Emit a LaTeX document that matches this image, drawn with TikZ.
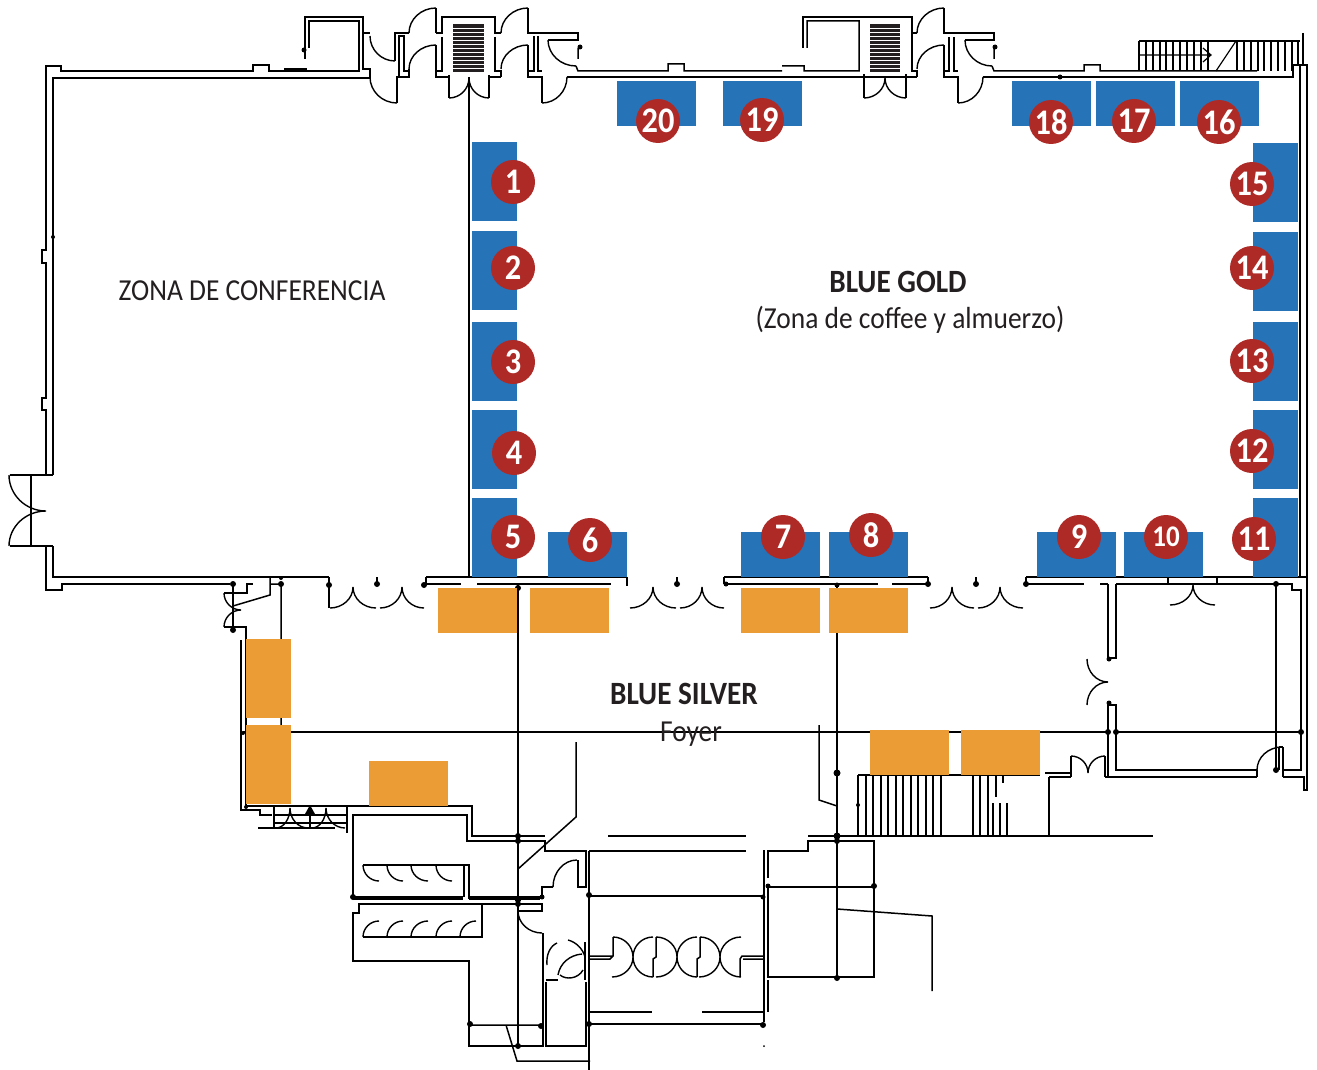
\documentclass[tikz,border=0pt]{standalone}
\usepackage{fontspec}
\usepackage{xcolor}
\usepackage{tikz}
\usetikzlibrary{calc}
\setmainfont[FakeStretch=0.9]{Carlito}
\definecolor{boothblue}{HTML}{2773B8}
\definecolor{badgered}{HTML}{AE2A26}
\definecolor{standorange}{HTML}{EB9C35}
\definecolor{planink}{HTML}{231F20}
\newcommand{\swing}[3]{(#1) .. controls ($(#1)!0.55!(#2)$) and ($(#3)!0.55!(#2)$) .. (#3)}

\begin{document}
\begin{tikzpicture}[
    x=1pt,
    y=-1pt,
    wall/.style={draw=black, line width=1.5pt, line join=miter},
    heavy/.style={draw=black, line width=2.6pt},
    leaf/.style={draw=black, line width=1.4pt},
    tread/.style={draw=black, line width=1.2pt},
    datum/.style={draw=black, line width=1.1pt},
    stripe/.style={draw=white, line width=0.7pt},
    boothh/.style={fill=boothblue, minimum width=79pt, minimum height=45pt, inner sep=0pt},
    boothv/.style={fill=boothblue, minimum width=45pt, minimum height=79pt, inner sep=0pt},
    standh/.style={fill=standorange, minimum width=79pt, minimum height=45pt, inner sep=0pt},
    standv/.style={fill=standorange, minimum width=45pt, minimum height=79pt, inner sep=0pt},
    badge/.style={circle, fill=badgered, text=white, minimum size=44pt, inner sep=0pt, font=\fontsize{36}{36}\selectfont\bfseries},
    roomtitle/.style={text=planink, font=\fontsize{32.5}{32.5}\selectfont\bfseries},
    roomnote/.style={text=planink, font=\fontsize{30.5}{30.5}\selectfont},
]
\useasboundingbox (0,0) rectangle (1317,1070);

% North wall, west part
\draw[wall] (46,475) -- (46,410) -- (42,410) -- (42,398) -- (46,398) -- (46,263) -- (42,263) -- (42,250) -- (46,250) -- (46,66) -- (61,66) -- (61,71) -- (253,71) -- (253,65) -- (269,65) -- (269,71) -- (359,71) -- (359,21) -- (309,21) -- (309,48);
\draw[wall] (53,475) -- (53,78) -- (370,78);
\draw[wall] (305,59) -- (305,17) -- (363,17) -- (363,33) -- (370,33) (363,33) -- (363,69) -- (370,69) -- (370,78);
\draw[heavy] (284,69) -- (307,69);

% First stair core
\draw[wall] (395,61) -- (395,33) -- (409,33) (397,103) -- (397,77) -- (409,77) -- (409,69);
\draw[wall] (399,77) -- (399,36) -- (404,36) -- (404,71) -- (409,71);
\draw[wall] (436,33) -- (442,33) -- (442,17) -- (495,17) -- (495,33) -- (501,33);
\draw[wall] (442,37) -- (442,71) -- (436,71) (495,37) -- (495,71) -- (501,71) -- (501,77);
\draw[wall] (436,45) -- (436,77) -- (449,77) (449,75) -- (449,98) (489,75) -- (489,98) (489,77) -- (501,77);
\draw[wall] (436,8) -- (436,33) (528,8) -- (528,33) -- (578,33) -- (578,40) -- (548,40);
\draw[wall] (528,45) -- (528,77) -- (542,77) -- (542,103) (534,36) -- (534,71) -- (528,71) (538,36) -- (538,71) -- (542,71);
\draw[wall] (578,48) -- (578,59) (576,66) -- (578,71) -- (668,71) -- (668,64) -- (684,64) -- (684,71) -- (782,71) (782,66) -- (804,66) -- (804,71) -- (859,71) -- (859,21) -- (807,21) -- (807,48);
\fill[planink] (453,24) rectangle (484,72);
\draw[stripe] (453,28) -- (484,28) (453,32) -- (484,32) (453,36) -- (484,36) (453,40) -- (484,40) (453,44) -- (484,44) (453,48) -- (484,48) (453,52) -- (484,52) (453,56) -- (484,56) (453,60) -- (484,60) (453,64) -- (484,64) (453,68) -- (484,68);
\draw[leaf] \swing{370,36}{370,61}{395,61} \swing{370,77}{370,103}{397,103};
\draw[leaf] \swing{409,33}{409,8}{436,8} \swing{409,69}{409,45}{436,45};
\draw[leaf] \swing{449,98}{469,98}{469,78} \swing{469,78}{469,98}{489,98};
\draw[leaf] \swing{501,33}{501,8}{528,8} \swing{501,69}{501,45}{528,45};
\draw[leaf] \swing{548,40}{548,66}{576,66} \swing{542,103}{567,103}{567,77};

% Second stair core
\draw[wall] (803,48) -- (803,17) -- (912,17) -- (912,33) -- (917,33) (912,33) -- (912,71) -- (917,71) -- (917,77);
\draw[wall] (944,8) -- (944,33) -- (994,33) -- (994,40) -- (965,40);
\draw[wall] (949,37) -- (949,71) -- (944,71) (954,37) -- (954,71) -- (958,71);
\draw[wall] (944,45) -- (944,77) -- (958,77) -- (958,103);
\draw[wall] (864,74) -- (864,98) (906,74) -- (906,98) (906,77) -- (917,77);
\draw[wall] (994,48) -- (994,59) (992,66) -- (994,71) -- (1084,71) -- (1084,65) -- (1100,65) -- (1100,71) -- (1257,71);
\fill[planink] (870,24) rectangle (900,72);
\draw[stripe] (870,28) -- (900,28) (870,32) -- (900,32) (870,36) -- (900,36) (870,40) -- (900,40) (870,44) -- (900,44) (870,48) -- (900,48) (870,52) -- (900,52) (870,56) -- (900,56) (870,60) -- (900,60) (870,64) -- (900,64) (870,68) -- (900,68);
\draw[leaf] \swing{917,33}{917,8}{944,8} \swing{917,69}{917,45}{944,45};
\draw[leaf] \swing{864,98}{885,98}{885,78} \swing{885,78}{885,98}{906,98};
\draw[leaf] \swing{965,40}{965,66}{992,66} \swing{958,103}{983,103}{983,77};

% Main wall under north side, east wall
\draw[wall] (567,77) -- (906,77) (983,77) -- (1293,77) -- (1293,65) -- (1307,65) -- (1307,790) -- (1304,790) -- (1304,777);
\draw[wall] (1300,65) -- (1300,577) (1303,50) -- (1303,65);
\draw[heavy] (1303,33) -- (1303,50);

% North stair
\draw[tread] (1139,41) -- (1300,41) (1139,41) -- (1139,71) (1146,41) -- (1146,71) (1153,41) -- (1153,71) (1160,41) -- (1160,71) (1166,41) -- (1166,71) (1173,41) -- (1173,71) (1180,41) -- (1180,71) (1187,41) -- (1187,71) (1194,41) -- (1194,71) (1201,41) -- (1201,71) (1208,41) -- (1208,71);
\draw[tread] (1237,41) -- (1237,71) (1244,41) -- (1244,71) (1251,41) -- (1251,71) (1258,41) -- (1258,71) (1264,41) -- (1264,71) (1271,41) -- (1271,71) (1278,41) -- (1278,71) (1285,41) -- (1285,71) (1292,41) -- (1292,71) (1298,41) -- (1298,65);
\draw[tread] (1216,71) -- (1236,41) (1139,55) -- (1211,55) (1203,48) -- (1211,55) -- (1203,62);

% Partition between halls, west entrance
\draw[wall] (469,77) -- (469,577);
\draw[heavy] (10,475) -- (53,475) (10,546) -- (53,546);
\draw[wall] (31,475) -- (31,546) (53,546) -- (53,577) -- (329,577) (46,546) -- (46,590) -- (62,590) -- (62,584) -- (230,584);
\draw[leaf] \swing{9,475}{9,511}{46,511} \swing{46,511}{9,511}{9,546};

% South wall of the halls
\draw[heavy] (329,577) -- (329,608) (426,584) -- (426,577) (627,577) -- (627,586) (724,577) -- (724,584) (928,577) -- (928,584) (1026,577) -- (1026,584) (1168,577) -- (1168,584) (1217,577) -- (1217,584);
\draw[wall] (426,577) -- (627,577) (724,577) -- (928,577) (1026,577) -- (1307,577);
\draw[wall] (426,584) -- (461,584) (477,584) -- (611,584) (724,584) -- (878,584) (892,584) -- (928,584);
\draw[wall] (1026,584) -- (1084,584) (1100,584) -- (1108,584) (1116,584) -- (1292,584) -- (1292,590) -- (1301,590) -- (1301,770) -- (1283,770) (1257,770) -- (1116,770) -- (1116,705) -- (1108,705);
\draw[wall] (1108,584) -- (1108,658) -- (1116,658) -- (1116,584) (1108,705) -- (1108,777);
\draw[wall] (377,577) -- (377,586) (677,577) -- (677,586) (976,577) -- (976,586);
\draw[leaf] \swing{330,608}{353,608}{353,587} \swing{353,587}{353,608}{376,608} \swing{380,608}{402,608}{402,587} \swing{402,587}{402,608}{424,608};
\draw[leaf] \swing{630,608}{653,608}{653,587} \swing{653,587}{653,608}{676,608} \swing{680,608}{702,608}{702,587} \swing{702,587}{702,608}{724,608};
\draw[leaf] \swing{930,608}{952,608}{952,587} \swing{952,587}{952,608}{974,608} \swing{978,608}{1000,608}{1000,587} \swing{1000,587}{1000,608}{1023,608};
\draw[leaf] \swing{1170,605}{1193,605}{1193,585} \swing{1193,585}{1193,605}{1215,605};
\draw[leaf] \swing{1087,659}{1087,682}{1108,682} \swing{1108,682}{1087,682}{1087,705};

% East rooms
\draw[wall] (1276,584) -- (1276,770) (1283,747) -- (1283,777) (1279,747) -- (1279,770) (1279,747) -- (1283,747);
\draw[datum] (1116,732) -- (1301,732);
\draw[wall] (1257,770) -- (1257,777);
\draw[leaf] \swing{1257,770}{1257,747}{1282,747};
\draw[wall] (1105,777) -- (1257,777) (1283,777) -- (1305,777);
\draw[wall] (1071,756) -- (1071,777) (1105,756) -- (1105,777) (1045,773) -- (1071,773) (1049,777) -- (1071,777) (1049,777) -- (1049,836);
\draw[leaf] \swing{1071,756}{1088,756}{1088,773} \swing{1088,773}{1088,756}{1105,756};

% West foyer
\draw[wall] (233,583) -- (233,630) (224,593) -- (247,593) -- (247,584) -- (253,584) (224,627) -- (246,627) -- (246,806) -- (472,806) -- (472,836) -- (545,836);
\draw[wall] (270,577) -- (270,595) -- (233,606) (270,584) -- (281,584) (281,584) -- (281,732);
\draw[wall] (241,640) -- (241,810) -- (260,810) -- (260,815) -- (272,815);
\draw[leaf] \swing{224,593}{224,610}{241,610} \swing{241,610}{224,610}{224,627};
\draw[wall] (274,806) -- (274,828) (258,828) -- (335,828) (274,815) -- (347,815) (274,823) -- (347,823) (347,806) -- (347,833);
\draw[heavy] (310,806) -- (310,828);
\draw[leaf] \swing{276,828}{290,828}{290,808} \swing{290,808}{290,828}{308,828} \swing{312,828}{326,828}{326,808} \swing{326,808}{326,828}{345,828};
\fill (305,814) -- (310,805) -- (315,814) -- cycle;
\draw[datum] (243,732) -- (1108,732);

% Long partitions
\draw[wall] (518,585) -- (518,1046) (837,585) -- (837,978);
\draw[wall] (576,742) -- (576,817) -- (518,869) (819,725) -- (819,800) -- (837,806);

% North stairs of the foyer
\draw[tread] (858,775) -- (1040,775) (808,836) -- (1153,836) (858,775) -- (858,836) (866,775) -- (866,836) (873,775) -- (873,836) (881,775) -- (881,836) (888,775) -- (888,836) (896,775) -- (896,836) (903,775) -- (903,836) (911,775) -- (911,836) (918,775) -- (918,836) (926,775) -- (926,836) (933,775) -- (933,836) (941,775) -- (941,836);
\draw[tread] (973,775) -- (973,836) (980,775) -- (980,836) (988,775) -- (988,836) (996,775) -- (996,797) (1003,775) -- (1003,783) (993,803) -- (993,836) (1000,803) -- (1000,836) (1007,803) -- (1007,836);

% Washrooms
\draw[wall] (353,897) -- (353,815) -- (467,815) -- (467,841) -- (545,841) -- (545,851) -- (586,851) -- (586,887) -- (578,887) -- (578,860);
\draw[leaf] \swing{577,860}{553,860}{553,887};
\draw[wall] (553,887) -- (542,887) -- (542,897) (353,897) -- (463,897) (353,899) -- (463,899) (469,899) -- (540,899) (469,897) -- (540,897);
\draw[wall] (363,865) -- (469,865) -- (469,899) (464,865) -- (464,897);
\draw[wall] (482,904) -- (359,904) -- (359,913) -- (353,913) -- (353,961) -- (469,961) -- (469,1046) -- (543,1046) -- (543,933) (482,904) -- (482,937) -- (363,937);
\draw[wall] (482,904) -- (542,904) -- (542,911) -- (518,911);
\draw[leaf] \swing{363,865}{363,881}{379,881} \swing{387,865}{387,881}{403,881} \swing{411,865}{411,881}{428,881} \swing{436,865}{436,881}{452,881};
\draw[leaf] \swing{363,937}{363,921}{379,921} \swing{387,937}{387,921}{403,921} \swing{411,937}{411,921}{428,921} \swing{436,937}{436,921}{452,921} \swing{460,937}{460,921}{476,921};
\draw[leaf] \swing{518,911}{518,933}{542,933};
\draw[wall] (546,982) -- (546,1046) -- (586,1046) -- (586,982) (546,980) -- (558,980);
\draw[wall] (585,942) -- (585,980) (589,851) -- (589,1070);
\draw[leaf] (547,965) .. controls (546,955) and (550,946) .. (557,943) (568,940) .. controls (576,942) and (583,949) .. (585,957);
\draw[leaf] (558,975) .. controls (560,963) and (570,955) .. (582,954) (560,975) .. controls (566,980) and (578,979) .. (583,970);
\draw[wall] (469,1025) -- (542,1025) (506,1025) -- (517,1061) -- (590,1061);

% Central block
\draw[wall] (608,836) -- (746,836) (589,851) -- (746,851);
\draw[wall] (589,896) -- (764,896) (764,850) -- (764,1022);
\draw[wall] (768,878) -- (768,851) -- (808,851) -- (808,841) -- (874,841) -- (874,977) -- (768,977) -- (768,887) -- (874,887) (768,980) -- (768,1012);
\draw[wall] (837,909) -- (932,916) -- (932,991);
\draw[wall] (590,1012) -- (652,1012) (702,1012) -- (764,1012) (590,1024) -- (763,1024);

% Revolving doors
\draw[wall] (590,956) -- (612,956) (590,959) -- (610,959) -- (613,956) -- (613,937);
\draw[leaf] \swing{613,937}{633,937}{633,957} \swing{633,957}{633,977}{612,977} \swing{653,937}{633,937}{633,957} \swing{633,957}{633,977}{653,977};
\draw[wall] (653,977) -- (653,959) -- (656,957) -- (656,937);
\draw[leaf] \swing{656,937}{677,937}{677,957} \swing{677,957}{677,977}{656,977} \swing{697,937}{677,937}{677,957} \swing{677,957}{677,977}{697,977};
\draw[wall] (697,977) -- (697,959) -- (700,957) -- (700,937);
\draw[leaf] \swing{700,937}{720,937}{720,957} \swing{720,957}{720,977}{699,977} \swing{741,937}{720,937}{720,957} \swing{720,957}{720,977}{741,977};
\draw[wall] (740,977) -- (740,959) -- (742,956) -- (763,956) (743,959) -- (763,959);

% Column marks
\fill (53,237) circle (2) (233,584) circle (3) (233,630) circle (3) (281,584) circle (3) (281,578) circle (2) (243,733) circle (2) (304,50) circle (2.5) (580,47) circle (2.5) (995,47) circle (2.5) (1060,77) circle (2.5);
\fill (377,584) circle (3) (424,585) circle (3) (329,585) circle (3) (677,584) circle (3) (726,584) circle (2.5) (928,584) circle (3) (976,584) circle (3) (1026,584) circle (3) (518,588) circle (3) (837,585) circle (2.5);
\fill (1109,659) circle (2.5) (1109,703) circle (2.5) (1108,732) circle (3) (1116,732) circle (3) (1301,732) circle (3) (1276,584) circle (3) (1276,770) circle (3) (837,773) circle (3.5) (837,836) circle (3.5) (837,841) circle (3) (858,805) circle (2);
\fill (518,836) circle (3) (518,841) circle (3) (518,899) circle (3.5) (518,904) circle (3) (518,1046) circle (3) (353,897) circle (3) (542,897) circle (2.5) (589,895) circle (3) (763,897) circle (2.5) (768,886) circle (2.5) (874,886) circle (3) (837,978) circle (3);
\fill (470,1024) circle (3) (541,1026) circle (3) (589,1024) circle (3) (763,1025) circle (3) (764,1046) circle (1) (246,807) circle (2);

% Booths
\node[boothv] (booth1) at (494.5,181.5) {};
\node[boothv] (booth2) at (494.5,270.5) {};
\node[boothv] (booth3) at (494.5,361.5) {};
\node[boothv] (booth4) at (494.5,449.5) {};
\node[boothv] (booth5) at (494.5,537.5) {};
\node[boothh] (booth6) at (587.5,554.5) {};
\node[boothh] (booth7) at (780.5,554.5) {};
\node[boothh] (booth8) at (868.5,554.5) {};
\node[boothh] (booth9) at (1076.5,554.5) {};
\node[boothh] (booth10) at (1163.5,554.5) {};
\node[boothv] (booth11) at (1275.5,537.5) {};
\node[boothv] (booth12) at (1275.5,449.5) {};
\node[boothv] (booth13) at (1275.5,361.5) {};
\node[boothv] (booth14) at (1275.5,271.5) {};
\node[boothv] (booth15) at (1275.5,182.5) {};
\node[boothh] (booth16) at (1219.5,103.5) {};
\node[boothh] (booth17) at (1135.5,103.5) {};
\node[boothh] (booth18) at (1051.5,103.5) {};
\node[boothh] (booth19) at (762.5,103.5) {};
\node[boothh] (booth20) at (656.5,103.5) {};

% Coffee stands
\node[standh] (stand1) at (477.5,610.5) {};
\node[standh] (stand2) at (569.5,610.5) {};
\node[standh] (stand3) at (780.5,610.5) {};
\node[standh] (stand4) at (868.5,610.5) {};
\node[standv] (stand5) at (268.5,678.5) {};
\node[standv] (stand6) at (268.5,764.5) {};
\node[standh] (stand7) at (408.5,783.5) {};
\node[standh] (stand8) at (909.5,752.5) {};
\node[standh] (stand9) at (1000.5,752.5) {};

% Numbers
\node[badge] (num1) at (513,182) {1};
\node[badge] (num2) at (513,268) {2};
\node[badge] (num3) at (513,362) {3};
\node[badge] (num4) at (514,453) {4};
\node[badge] (num5) at (513,537) {5};
\node[badge] (num6) at (590,540) {6};
\node[badge] (num7) at (783,537) {7};
\node[badge] (num8) at (871,535) {8};
\node[badge] (num9) at (1079,537) {9};
\node[badge, font=\fontsize{30}{30}\selectfont\bfseries] (num10) at (1166,537) {10};
\node[badge] (num11) at (1254,539) {11};
\node[badge] (num12) at (1252,451) {12};
\node[badge] (num13) at (1252,361) {13};
\node[badge] (num14) at (1252,268) {14};
\node[badge] (num15) at (1252,184) {15};
\node[badge] (num16) at (1219,122) {16};
\node[badge] (num17) at (1134,121) {17};
\node[badge] (num18) at (1051,122) {18};
\node[badge] (num19) at (762,120) {19};
\node[badge] (num20) at (658,121) {20};

% Room names
\node[roomnote] (conference) at (252,291) {ZONA DE CONFERENCIA};
\node[roomtitle] (gold) at (898,282) {BLUE GOLD};
\node[roomnote] (goldnote) at (910,320) {(Zona de coffee y almuerzo)};
\node[roomtitle] (silver) at (684,694) {BLUE SILVER};
\node[roomnote] (foyer) at (691,734) {Foyer};

\end{tikzpicture}
\end{document}
